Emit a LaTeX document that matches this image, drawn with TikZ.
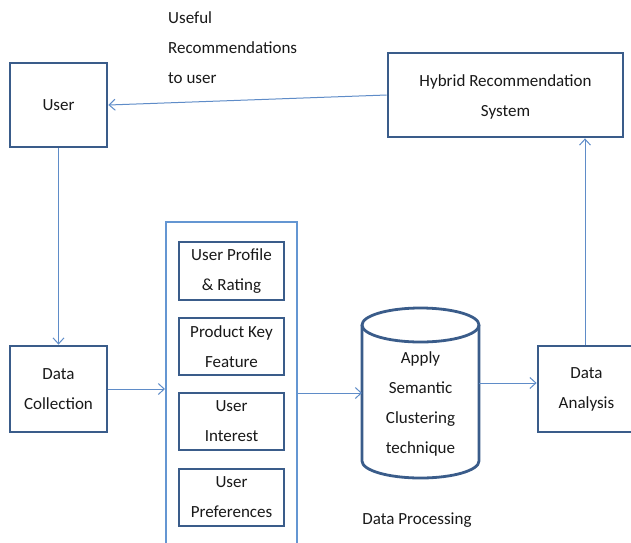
\documentclass[tikz,border=0pt]{standalone}
\usepackage{fontspec}
\setmainfont{Carlito}
\usetikzlibrary{arrows.meta}
\definecolor{boxblue}{RGB}{58,92,138}
\definecolor{linkblue}{RGB}{95,140,200}
\definecolor{outerblue}{RGB}{100,150,210}
\definecolor{txt}{RGB}{25,25,25}
\tikzset{
  box/.style={draw=boxblue, line width=2.8pt, fill=white, text=txt, align=center, inner sep=0pt},
  link/.style={draw=linkblue, line width=1pt, -{Straight Barb[length=6pt,width=11pt,line width=1pt]}},
  lbl/.style={text=txt, align=left, inner sep=0pt},
  every node/.style={font=\fontsize{17}{30}\selectfont}
}
\begin{document}
\begin{tikzpicture}[x=1pt,y=-1pt]
\useasboundingbox (0,0) rectangle (631,542);
\clip (0,0) rectangle (631,542);
\fill[white] (0,0) rectangle (631,542);
% nodes
\node[box, minimum width=97, minimum height=84] (user) at (58.5,105) {User};
\node[box, minimum width=235, minimum height=84] (hyb) at (505.5,95) {};
\node[text=txt, align=center, inner sep=0pt] (hybtxt) at ([yshift=-2pt]hyb.center) {Hybrid Recommendation\\System};
\node[box, minimum width=97, minimum height=86] (dc) at (58.5,389) {Data\\Collection};
\node[box, minimum width=97, minimum height=86] (da) at (586.5,389) {Data\\Analysis};
\node[draw=outerblue, line width=2pt, minimum width=131, minimum height=340] (big) at (231.5,392) {};
\node[box, minimum width=105, minimum height=58] (p1) at (231.5,271) {User Profile\\\& Rating};
\node[box, minimum width=105, minimum height=57] (p2) at (231.5,346.5) {Product Key\\Feature};
\node[box, minimum width=105, minimum height=57] (p3) at (231.5,421.5) {User\\Interest};
\node[box, minimum width=105, minimum height=57] (p4) at (231.5,497.5) {User\\Preferences};
% cylinder
\draw[boxblue, line width=2.8pt, fill=white] (362,325) -- (362,461) arc (180:0:58.5 and 17) -- (479,325);
\draw[boxblue, line width=2.8pt] (420.5,325) ellipse (58.5 and 17);
\node[text=txt, align=center, inner sep=0pt] (cyl) at (420.5,404) {Apply\\Semantic\\Clustering\\technique};
\coordinate (cylW) at (362,393);
\coordinate (cylE) at (479,383);
% labels
\node[lbl, anchor=north west] (useful) at (168,11) {Useful\\Recommendations\\to user};
\node[lbl] (dp) at (417,520) {Data Processing};
% connectors
\draw[link] (hyb.west) -- (user.east);
\draw[link] (user.south) -- (dc.north);
\draw[link] (dc.east) -- (dc.east -| big.west);
\draw[link] (big.east |- cylW) -- (cylW);
\draw[link] (cylE) -- (cylE -| da.west);
\draw[link] (da.north -| 585,0) -- (hyb.south -| 585,0);
\end{tikzpicture}
\end{document}
